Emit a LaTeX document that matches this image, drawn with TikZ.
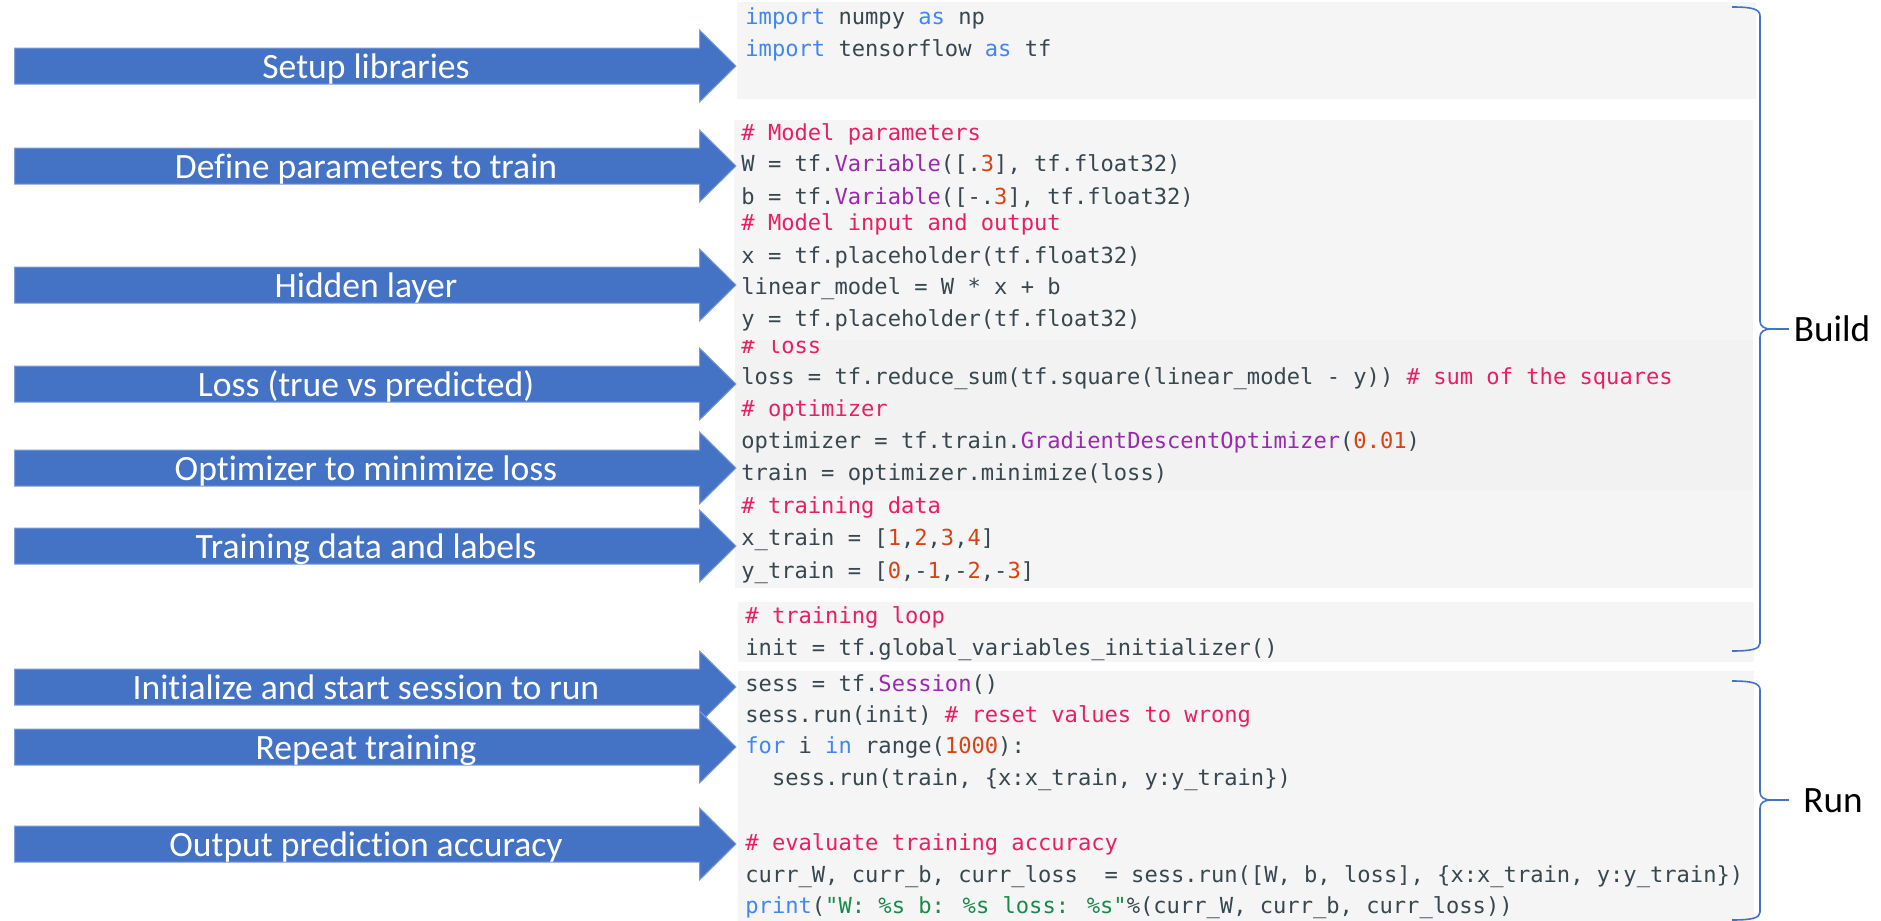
\documentclass[tikz,border=0pt]{standalone}
\usepackage{fontspec}
\setmainfont{Carlito}[Ligatures={TeX,NoCommon}]
\newfontfamily\codefont{DejaVu Sans Mono}
\definecolor{arrowblue}{HTML}{4472C4}
\definecolor{arrowedge}{HTML}{7F9CD6}
\definecolor{bracecol}{HTML}{4472C4}
\definecolor{boxgray}{HTML}{F5F5F5}
\definecolor{boxgrayb}{HTML}{F2F2F2}
\definecolor{codetext}{HTML}{37474F}
\definecolor{kwblue}{HTML}{4285F4}
\definecolor{cmpink}{HTML}{E91E63}
\definecolor{fnpurple}{HTML}{9C27B0}
\definecolor{nmred}{HTML}{D84315}
\definecolor{stgreen}{HTML}{188A4A}
\newcommand\ckw[1]{\textcolor{kwblue}{#1}}
\newcommand\ccm[1]{\textcolor{cmpink}{#1}}
\newcommand\cfn[1]{\textcolor{fnpurple}{#1}}
\newcommand\cnm[1]{\textcolor{nmred}{#1}}
\newcommand\cst[1]{\textcolor{stgreen}{#1}}
\tikzset{
  lab/.style={anchor=base, inner sep=0pt, text=white, font=\fontsize{17.8}{20}\selectfont},
  code/.style={anchor=base west, inner sep=0pt, text=codetext, font=\codefont\fontsize{11.05}{13}\selectfont},
  codebox/.style={fill=boxgray, draw=none},
  codeboxb/.style={fill=boxgrayb, draw=none},
  arrowshape/.style={fill=arrowblue, draw=arrowedge, line width=0.5pt},
  bracestyle/.style={draw=bracecol, line width=0.8pt},
  sidelab/.style={anchor=base, inner sep=0pt, text=black, font=\fontsize{18.6}{22}\selectfont}
}
\newcommand\steparrow[3]{%
  \path[arrowshape] (14.5,#2-18) -- (699.5,#2-18) -- (699.5,#2-36) -- (736,#2) -- (699.5,#2+36) -- (699.5,#2+18) -- (14.5,#2+18) -- cycle;
  \node[lab] (#1) at (366,#2+12) {#3};
}
\begin{document}
\begin{tikzpicture}[x=0.5pt,y=-0.5pt]
\useasboundingbox (0,0) rectangle (1881,921);
\fill[white] (0,0) rectangle (1881,921);

% block 1
\path[codebox] (737,2) rectangle (1756,99);
\node[code] (c1) at (745,25) {\ckw{import} numpy \ckw{as} np};
\node[code] (c2) at (745,56) {\ckw{import} tensorflow \ckw{as} tf};

% block 3 (loss / optimizer)
\path[codeboxb] (735,336) rectangle (1753,490);
\node[code] (c10) at (741,353) {\ccm{\# loss}};
\node[code] (c11) at (741,384) {loss = tf.reduce\_sum(tf.square(linear\_model - y)) \ccm{\# sum of the squares}};
\node[code] (c12) at (741,416) {\ccm{\# optimizer}};
\node[code] (c13) at (741,448) {optimizer = tf.train.\cfn{GradientDescentOptimizer}(\cnm{0.01})};
\node[code] (c14) at (741,480) {train = optimizer.minimize(loss)};

% block 2 (parameters, drawn over the top of block 3)
\path[codebox] (734,120) rectangle (1753,340);
\node[code] (c3) at (741,140) {\ccm{\# Model parameters}};
\node[code] (c4) at (741,171) {W = tf.\cfn{Variable}([.\cnm{3}], tf.float32)};
\node[code] (c5) at (741,204) {b = tf.\cfn{Variable}([-.\cnm{3}], tf.float32)};
\node[code] (c6) at (741,230) {\ccm{\# Model input and output}};
\node[code] (c7) at (741,263) {x = tf.placeholder(tf.float32)};
\node[code] (c8) at (741,294) {linear\_model = W * x + b};
\node[code] (c9) at (741,326) {y = tf.placeholder(tf.float32)};

% block 4
\path[codebox] (735,490) rectangle (1753,588);
\node[code] (c15) at (741,513) {\ccm{\# training data}};
\node[code] (c16) at (741,545) {x\_train = [\cnm{1},\cnm{2},\cnm{3},\cnm{4}]};
\node[code] (c17) at (741,578) {y\_train = [\cnm{0},-\cnm{1},-\cnm{2},-\cnm{3}]};

% block 5
\path[codebox] (738,602) rectangle (1754,662);
\node[code] (c18) at (745,623) {\ccm{\# training loop}};
\node[code] (c19) at (745,655) {init = tf.global\_variables\_initializer()};

% block 6
\path[codebox] (738,671) rectangle (1754,921);
\node[code] (c20) at (745,691) {sess = tf.\cfn{Session}()};
\node[code] (c21) at (745,722) {sess.run(init) \ccm{\# reset values to wrong}};
\node[code] (c22) at (745,753) {\ckw{for} i \ckw{in} range(\cnm{1000}):};
\node[code] (c23) at (745,785) {\ \ sess.run(train, \{x:x\_train, y:y\_train\})};
\node[code] (c24) at (745,850) {\ccm{\# evaluate training accuracy}};
\node[code] (c25) at (745,882) {curr\_W, curr\_b, curr\_loss\ \ = sess.run([W, b, loss], \{x:x\_train, y:y\_train\})};
\node[code] (c26) at (745,913) {\ckw{print}(\cst{"W: \%s b: \%s loss: \%s"}\%(curr\_W, curr\_b, curr\_loss))};

% arrows
\steparrow{a1}{66}{Setup libraries}
\steparrow{a2}{166}{Define parameters to train}
\steparrow{a3}{285}{Hidden layer}
\steparrow{a4}{384}{Loss (true vs predicted)}
\steparrow{a5}{468}{Optimizer to minimize loss}
\steparrow{a6}{546}{Training data and labels}
\steparrow{a7}{687}{Initialize and start session to run}
\steparrow{a8}{747}{Repeat training}
\steparrow{a9}{844}{Output prediction accuracy}

% braces
\path[bracestyle] (1732,7) .. controls (1752,7) and (1760,9) .. (1760,16) -- (1760,321)
  .. controls (1760,326) and (1764,329) .. (1771,329)
  .. controls (1764,329) and (1760,332) .. (1760,337) -- (1760,643)
  .. controls (1760,649) and (1752,651) .. (1732,651);
\coordinate (btip) at (1771,329);
\coordinate (bend) at (1789,329);
\draw[bracestyle] (btip) -- (bend);
\node[sidelab] (build) at (1832,341) {Build};

\path[bracestyle] (1732,681) .. controls (1752,681) and (1760,683) .. (1760,690) -- (1760,792)
  .. controls (1760,797) and (1764,800) .. (1771,800)
  .. controls (1764,800) and (1760,803) .. (1760,808) -- (1760,912)
  .. controls (1760,918) and (1752,920) .. (1732,920);
\coordinate (rtip) at (1771,800);
\coordinate (rend) at (1789,800);
\draw[bracestyle] (rtip) -- (rend);
\node[sidelab] (run) at (1833,812) {Run};
\end{tikzpicture}
\end{document}
